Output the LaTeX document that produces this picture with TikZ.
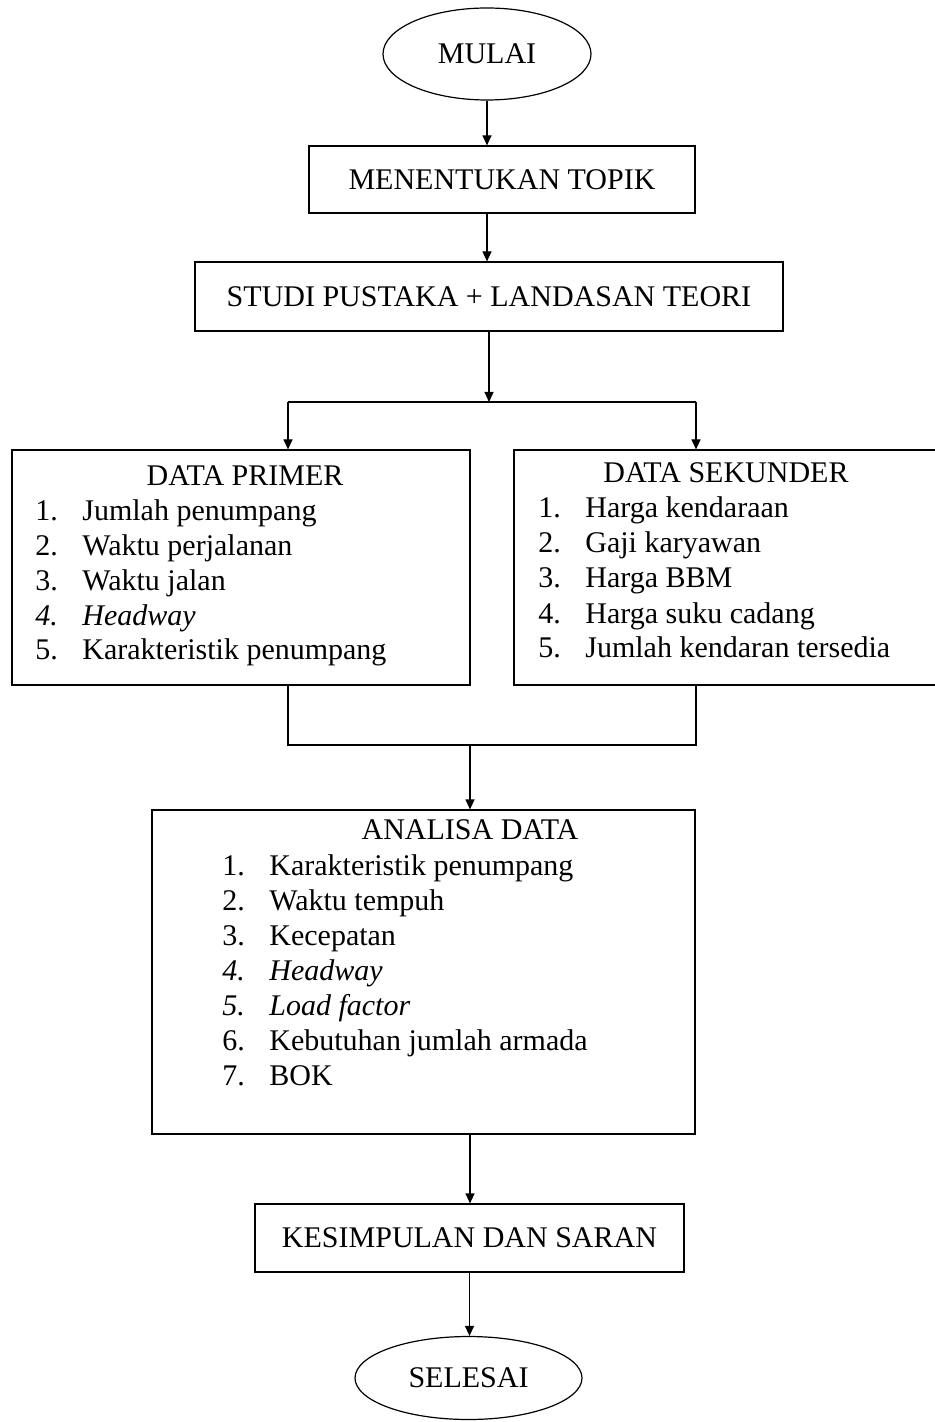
\documentclass[tikz,border=0pt]{standalone}
\usepackage{fontspec}
\setmainfont{Liberation Serif}
\usetikzlibrary{positioning}
\usetikzlibrary{calc}
\usetikzlibrary{shapes.geometric}
\usetikzlibrary{arrows.meta}
\tikzset{%
  flowline/.style = {draw,line width=0.6pt},
  flowarrow/.style = {flowline,-{Triangle[width=4.5pt,length=5pt]}},
  term/.style = {ellipse,draw,line width=0.6pt,inner sep=0pt},
  proc/.style = {rectangle,draw,line width=0.6pt,inner sep=0pt},
  head/.style = {inner sep=0pt,text height=10.5pt,text depth=3pt},
  item/.style = {anchor=west,inner sep=0pt,text height=10.5pt,text depth=3pt}
}
\newcommand{\nr}[1]{\makebox[23.5pt][l]{#1}}

\begin{document}
\begin{tikzpicture}[x=0.5pt,y=-0.5pt,font=\fontsize{15}{18}\selectfont]
    \useasboundingbox (0,0) rectangle (934,1422);
    % start, topik, studi
    \node[term,minimum width=104pt,minimum height=46pt] (mulai) at (487,54) {MULAI};
    \node[proc,minimum width=193pt,minimum height=33.5pt] (topik) at (502,179.5) {MENENTUKAN TOPIK};
    \node[proc,minimum width=294pt,minimum height=34.5pt] (studi) at (489,296.5) {STUDI PUSTAKA + LANDASAN TEORI};
    % data boxes
    \node[proc,minimum width=229pt,minimum height=117.5pt] (primer) at (241,567.5) {};
    \node[proc,minimum width=213pt,minimum height=117.5pt] (sekunder) at (727,567.5) {};
    \node[head] (primertitle) at (245,478) {DATA PRIMER};
    \node[item] (p1) at (35,513) {\nr{1.}Jumlah penumpang};
    \node[item] (p2) at (35,548) {\nr{2.}Waktu perjalanan};
    \node[item] (p3) at (35,583) {\nr{3.}Waktu jalan};
    \node[item] (p4) at (35,618) {\itshape\nr{4.}Headway};
    \node[item] (p5) at (35,652) {\nr{5.}Karakteristik penumpang};
    \node[head] (sekundertitle) at (726,475) {DATA SEKUNDER};
    \node[item] (s1) at (538,510) {\nr{1.}Harga kendaraan};
    \node[item] (s2) at (538,545) {\nr{2.}Gaji karyawan};
    \node[item] (s3) at (538,580) {\nr{3.}Harga BBM};
    \node[item] (s4) at (538,616) {\nr{4.}Harga suku cadang};
    \node[item] (s5) at (538,650) {\nr{5.}Jumlah kendaran tersedia};
    % analisa
    \node[proc,minimum width=271.5pt,minimum height=162pt] (analisa) at (423.5,972) {};
    \node[head] (analisatitle) at (470,832) {ANALISA DATA};
    \node[item] (a1) at (222,868) {\nr{1.}Karakteristik penumpang};
    \node[item] (a2) at (222,903) {\nr{2.}Waktu tempuh};
    \node[item] (a3) at (222,938) {\nr{3.}Kecepatan};
    \node[item] (a4) at (222,973) {\itshape\nr{4.}Headway};
    \node[item] (a5) at (222,1008) {\itshape\nr{5.}Load factor};
    \node[item] (a6) at (222,1043) {\nr{6.}Kebutuhan jumlah armada};
    \node[item] (a7) at (222,1078) {\nr{7.}BOK};
    % end
    \node[proc,minimum width=214.5pt,minimum height=34pt] (simpulan) at (469.5,1238) {KESIMPULAN DAN SARAN};
    \node[term,minimum width=113.5pt,minimum height=41.5pt] (selesai) at (468.5,1378) {SELESAI};
    % joints
    \coordinate (split) at (489,402);
    \coordinate (lj) at (288,402);
    \coordinate (rj) at (696,402);
    \coordinate (ljoin) at (288,745);
    \coordinate (rjoin) at (696,745);
    \coordinate (merge) at (470,745);
    % connectors
    \draw[flowarrow] (mulai.south) -- (mulai.south |- topik.north);
    \draw[flowarrow] (topik.south -| mulai.south) -- (studi.north -| mulai.south);
    \draw[flowarrow] (studi.south) -- (split);
    \draw[flowline] (lj) -- (rj);
    \draw[flowarrow] (lj) -- (lj |- primer.north);
    \draw[flowarrow] (rj) -- (rj |- sekunder.north);
    \draw[flowline] (lj |- primer.south) -- (ljoin) -- (rjoin) -- (rj |- sekunder.south);
    \draw[flowarrow] (merge) -- (merge |- analisa.north);
    \draw[flowarrow] (merge |- analisa.south) -- (simpulan.north -| merge);
    \draw[flowarrow] (simpulan.south) -- (simpulan.south |- selesai.north);
\end{tikzpicture}
\end{document}
